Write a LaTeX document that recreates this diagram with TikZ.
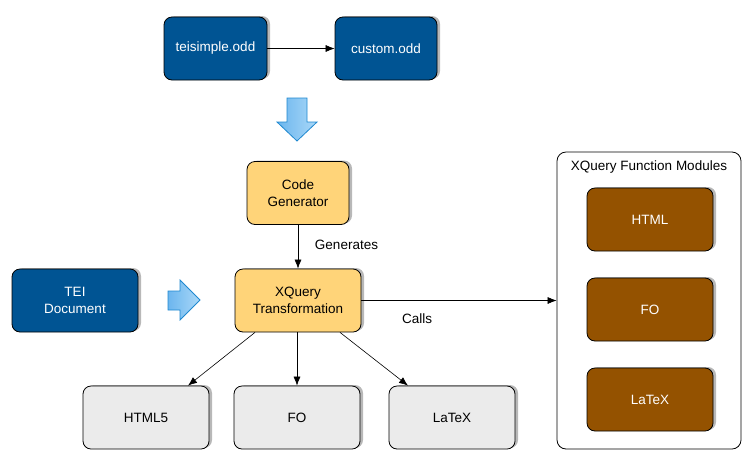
\documentclass[tikz,border=0pt]{standalone}
\usepackage{fontspec}
\setmainfont{Liberation Sans}
\usetikzlibrary{arrows.meta,shadows,calc}
\definecolor{ocean}{RGB}{0,84,147}
\definecolor{canta}{RGB}{255,212,121}
\definecolor{mercury}{RGB}{235,235,235}
\definecolor{mocha}{RGB}{148,82,0}
\definecolor{arrowedge}{RGB}{30,136,208}
\definecolor{arrowA}{RGB}{108,182,238}
\definecolor{arrowB}{RGB}{170,216,248}
\tikzset{
  box/.style={draw=black, line width=0.8pt, rounded corners=8pt, minimum width=126pt, minimum height=63pt,
    align=center, font=\fontsize{13.5}{17}\selectfont,
    drop shadow={shadow xshift=3pt, shadow yshift=1pt, fill=black, opacity=0.28}},
  bluebox/.style={box, fill=ocean, text=white},
  yelbox/.style={box, fill=canta, text=black},
  greybox/.style={box, fill=mercury, text=black},
  brownbox/.style={box, fill=mocha, text=white},
  arr/.style={draw=black, line width=0.6pt, -{Latex[length=9pt,width=7pt]}},
  blockarrow/.style={draw=arrowedge, line width=0.8pt, left color=arrowA, right color=arrowB},
  lbl/.style={font=\fontsize{13.5}{17}\selectfont, text=black}
}
\begin{document}
\begin{tikzpicture}[x=1pt,y=-1pt]
\useasboundingbox (0,0) rectangle (751,461);
% container
\node[draw=black, line width=0.8pt, rounded corners=9pt, fill=white, minimum width=184pt, minimum height=297pt] (mods) at (649,300.5) {};
\node[lbl, anchor=center] (modtitle) at (649,167) {XQuery Function Modules};
\node[brownbox] (mhtml) at (650,219.5) {HTML};
\node[brownbox] (mfo) at (650,309.5) {FO};
\node[brownbox] (mlatex) at (650,399.5) {LaTeX};
% top
\node[bluebox, minimum width=103pt] (tei) at (215.5,48.5) {teisimple.odd};
\node[bluebox, minimum width=102pt] (custom) at (386,48.5) {custom.odd};
\draw[arr] (tei.east) -- (custom.west);
% down block arrow
\path[blockarrow] (287,98) -- (307,98) -- (307,122) -- (317,122) -- (297,141) -- (277,122) -- (287,122) -- cycle;
\node[yelbox, minimum width=102pt] (code) at (298,193) {Code\\Generator};
\node[yelbox] (xq) at (298,300.5) {XQuery\\Transformation};
\draw[arr] (code.south) -- (xq.north);
\node[lbl] (gen) at (346.5,245) {Generates};
\node[bluebox] (teidoc) at (75,300.5) {TEI\\Document};
% right block arrow
\path[blockarrow] (168,291) -- (180,291) -- (180,280) -- (200,300) -- (180,320) -- (180,310) -- (168,310) -- cycle;
% outputs
\node[greybox] (html5) at (146,417.5) {HTML5};
\node[greybox] (fo) at (297,417.5) {FO};
\node[greybox] (latex) at (452,417.5) {LaTeX};
\draw[arr] ($(xq.south)+(-43,0)$) -- ($(html5.north)+(42,0)$);
\draw[arr] ($(xq.south)+(-1,0)$) -- (fo.north);
\draw[arr] ($(xq.south)+(42,0)$) -- ($(latex.north)+(-44,0)$);
\draw[arr] (xq.east) -- (mods.west);
\node[lbl] (calls) at (417,319) {Calls};
\end{tikzpicture}
\end{document}
